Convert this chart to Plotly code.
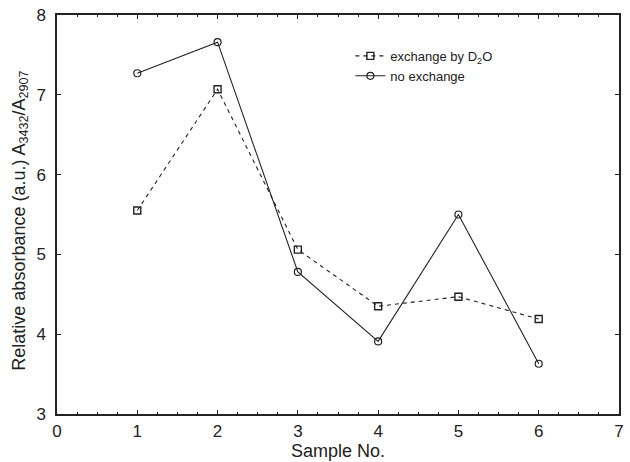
import plotly.graph_objects as go

# Relative absorbance A3432/A2907 per sample
samples = [1, 2, 3, 4, 5, 6]
exchange_d2o = [5.55, 7.07, 5.06, 4.35, 4.47, 4.19]
no_exchange = [7.27, 7.66, 4.78, 3.91, 5.50, 3.63]

x_ticks = [0, 1, 2, 3, 4, 5, 6, 7]
y_ticks = [3, 4, 5, 6, 7, 8]

FONT = "Liberation Sans, Arial, Helvetica, sans-serif"
INK = "#222222"

fig = go.Figure()
fig.add_trace(go.Scatter(
    x=samples, y=exchange_d2o, mode="lines+markers",
    name="exchange by D<sub>2</sub>O",
    line=dict(color=INK, width=1.1, dash="4px,4px"),
    marker=dict(symbol="square-open", size=7, color=INK, line=dict(width=1.4)),
))
fig.add_trace(go.Scatter(
    x=samples, y=no_exchange, mode="lines+markers",
    name="no exchange",
    line=dict(color=INK, width=1.1),
    marker=dict(symbol="circle-open", size=7, color=INK, line=dict(width=1.2)),
))

axis_common = dict(
    showgrid=False, zeroline=False, showline=True, linecolor=INK, linewidth=1.5,
    mirror="allticks", ticks="inside", tickcolor=INK, ticklen=4, tickwidth=1,
    tickfont=dict(size=17, color=INK, family=FONT),
)

fig.update_xaxes(
    range=[0, 7], tickvals=x_ticks, ticktext=[str(v) for v in x_ticks],
    title=dict(text="Sample No.", font=dict(size=18, color=INK, family=FONT), standoff=2),
    minor=dict(dtick=0.25, ticks="inside", ticklen=2, tickcolor=INK, showgrid=False),
    ticklabelstandoff=1,
    **axis_common,
)
fig.update_yaxes(
    range=[3, 8], tickvals=y_ticks, ticktext=[str(v) for v in y_ticks],
    ticklabelstandoff=6,
    **axis_common,
)

# Vertical axis caption with subscripted band labels
fig.add_annotation(
    text="Relative absorbance (a.u.) A<sub>3432</sub>/A<sub>2907</sub>",
    xref="paper", yref="paper", x=-0.0655, y=0.485,
    xanchor="center", yanchor="middle", textangle=-90, showarrow=False,
    font=dict(size=18, color=INK, family=FONT),
)

fig.update_layout(
    width=630, height=462,
    margin=dict(l=57, r=6, t=15, b=47),
    paper_bgcolor="white", plot_bgcolor="white",
    font=dict(family=FONT, color=INK),
    legend=dict(
        x=0.522, y=0.935, xanchor="left", yanchor="top",
        bgcolor="rgba(0,0,0,0)", font=dict(size=13, color=INK, family=FONT),
        itemwidth=30, tracegroupgap=0,
    ),
)

fig.write_html("out.html")
